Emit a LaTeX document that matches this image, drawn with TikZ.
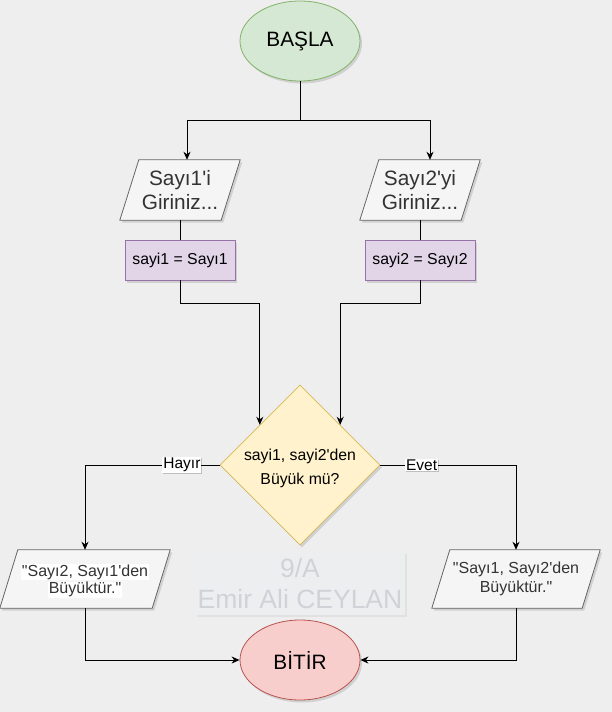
\documentclass[tikz,border=0pt]{standalone}
\usepackage{fontspec}
\setmainfont{Liberation Sans}[Ligatures=TeXOff]
\usetikzlibrary{shapes.geometric,shadows,calc,arrows.meta}
\definecolor{bg}{HTML}{EEEEEE}
\definecolor{startfill}{HTML}{D5E8D4}
\definecolor{startdraw}{HTML}{82B366}
\definecolor{endfill}{HTML}{F8CECC}
\definecolor{enddraw}{HTML}{B85450}
\definecolor{procfill}{HTML}{E1D5E7}
\definecolor{procdraw}{HTML}{9673A6}
\definecolor{decfill}{HTML}{FFF2CC}
\definecolor{decdraw}{HTML}{D6B656}
\definecolor{iofill}{HTML}{F5F5F5}
\definecolor{iodraw}{HTML}{666666}
\definecolor{iotext}{HTML}{333333}
\definecolor{wmfill}{HTML}{EDEEEF}
\definecolor{wmtext}{HTML}{CFD3D8}
\tikzset{
  shad/.style={drop shadow={shadow xshift=2pt,shadow yshift=-2.5pt,opacity=0.18,fill=black!70}},
  term/.style={ellipse,draw,line width=0.8pt,minimum width=120pt,minimum height=80pt,inner sep=0pt,
    font=\fontsize{20.8}{24}\selectfont,shad},
  procbox/.style={rectangle,draw=procdraw,fill=procfill,line width=0.8pt,minimum width=110pt,minimum height=40pt,
    inner sep=0pt,font=\fontsize{15.8}{18}\selectfont,shad},
  decbox/.style={diamond,aspect=1,draw=decdraw,fill=decfill,line width=0.8pt,minimum width=160pt,minimum height=160pt,
    inner sep=0pt,shad},
  dectext/.style={inner sep=0pt,align=center,font=\fontsize{15.8}{23.5}\selectfont},
  iobox/.style={rectangle,draw=none,inner sep=0pt,align=center,text=iotext},
  iopath/.style={draw=iodraw,fill=iofill,line width=0.8pt,line join=miter,shad},
  conn/.style={draw=black,line width=1pt},
  arrow/.style={conn,-{Stealth[length=8pt,width=7pt,inset=2.5pt]}},
  lbl/.style={fill=white,inner sep=1pt,font=\fontsize{15.5}{17}\selectfont,
    drop shadow={shadow xshift=1pt,shadow yshift=-1pt,opacity=0.2,fill=black}},
  wmbox/.style={rectangle,fill=wmfill,minimum width=210pt,minimum height=63pt,inner sep=0pt,align=center,
    text=wmtext,font=\fontsize{26.5}{31}\selectfont,
    drop shadow={shadow xshift=1.5pt,shadow yshift=-1.5pt,opacity=0.05,fill=black}}
}
\begin{document}
\begin{tikzpicture}[x=1pt,y=-1pt]
\fill[bg] (0,0) rectangle (612,712);
\useasboundingbox (0,0) rectangle (612,712);

% watermark
\node[wmbox] (wm) at (300,583.5) {9/A\\Emir Ali CEYLAN};

% start / end
\node[term,fill=startfill,draw=startdraw] (start) at (300,41) {BAŞLA};
\node[term,fill=endfill,draw=enddraw] (end) at (300,660) {BİTİR};

% input parallelograms
\node[iobox,minimum width=120pt,minimum height=60pt,font=\fontsize{20.8}{23.5}\selectfont] (p1) at (180,190) {Sayı1'i\\Giriniz...};
\path[iopath] ([xshift=19pt]p1.north west) -- (p1.north east) -- ([xshift=-19pt]p1.south east) -- (p1.south west) -- cycle;
\node[iobox,minimum width=120pt,minimum height=60pt,font=\fontsize{20.8}{23.5}\selectfont] at (180,190) {Sayı1'i\\Giriniz...};

\node[iobox,minimum width=120pt,minimum height=60pt,font=\fontsize{20.8}{23.5}\selectfont] (p2) at (420,190) {Sayı2'yi\\Giriniz...};
\path[iopath] ([xshift=19pt]p2.north west) -- (p2.north east) -- ([xshift=-19pt]p2.south east) -- (p2.south west) -- cycle;
\node[iobox,minimum width=120pt,minimum height=60pt,font=\fontsize{20.8}{23.5}\selectfont] at (420,190) {Sayı2'yi\\Giriniz...};

% process boxes
\node[procbox] (r1) at (180,260) {sayi1 = Sayı1};
\node[procbox] (r2) at (420,260) {sayi2 = Sayı2};

% decision
\node[decbox] (dia) at (300,465) {};
\node[dectext] (diatext) at (300,468.5) {sayi1, sayi2'den\\Büyük mü?};

% output parallelograms
\node[iobox,minimum width=170pt,minimum height=58pt,font=\fontsize{16}{18.5}\selectfont] (o1) at (85,579) {\phantom{x}};
\path[iopath] ([xshift=18pt]o1.north west) -- (o1.north east) -- ([xshift=-18pt]o1.south east) -- (o1.south west) -- cycle;
\node[iobox,font=\fontsize{16}{18.5}\selectfont,inner sep=0pt] at (85,581)
  {\setlength{\fboxsep}{0.6pt}\colorbox{white}{"Sayı2, Sayı1'den}\\[-1.2pt]\setlength{\fboxsep}{0.6pt}\colorbox{white}{Büyüktür."}};

\node[iobox,minimum width=168pt,minimum height=58pt,font=\fontsize{16}{18.5}\selectfont] (o2) at (516,579) {"Sayı1, Sayı2'den\\Büyüktür."};
\path[iopath] ([xshift=18pt]o2.north west) -- (o2.north east) -- ([xshift=-18pt]o2.south east) -- (o2.south west) -- cycle;
\node[iobox,font=\fontsize{16}{18.5}\selectfont] at (516,579) {"Sayı1, Sayı2'den\\Büyüktür."};

% connectors
\coordinate (split) at (300,120);
\coordinate (p1in) at ($(p1.north)+(7,0)$);
\coordinate (p2in) at ($(p2.north)+(10,0)$);
\draw[conn] (start.south) -- (split);
\draw[arrow] (split) -| (p1in);
\draw[arrow] (split) -| (p2in);
\draw[conn] (p1.south) -- (r1.north);
\draw[conn] (p2.south) -- (r2.north);

\coordinate (d1in) at ($(dia.north)!0.5!(dia.west)$);
\coordinate (d2in) at ($(dia.north)!0.5!(dia.east)$);
\coordinate (j1) at ($(r1.south)+(0,23)$);
\coordinate (j2) at ($(r2.south)+(0,23)$);
\draw[arrow] (r1.south) -- (j1) -| (d1in);
\draw[arrow] (r2.south) -- (j2) -| (d2in);

\draw[arrow] (dia.west) -| (o1.north) node[lbl,pos=0.14] {Hayır};
\draw[arrow] (dia.east) -| (o2.north) node[lbl,pos=0.152] {Evet};

\draw[arrow] (o1.south) |- (end.west);
\draw[arrow] (o2.south) |- (end.east);
\end{tikzpicture}
\end{document}
